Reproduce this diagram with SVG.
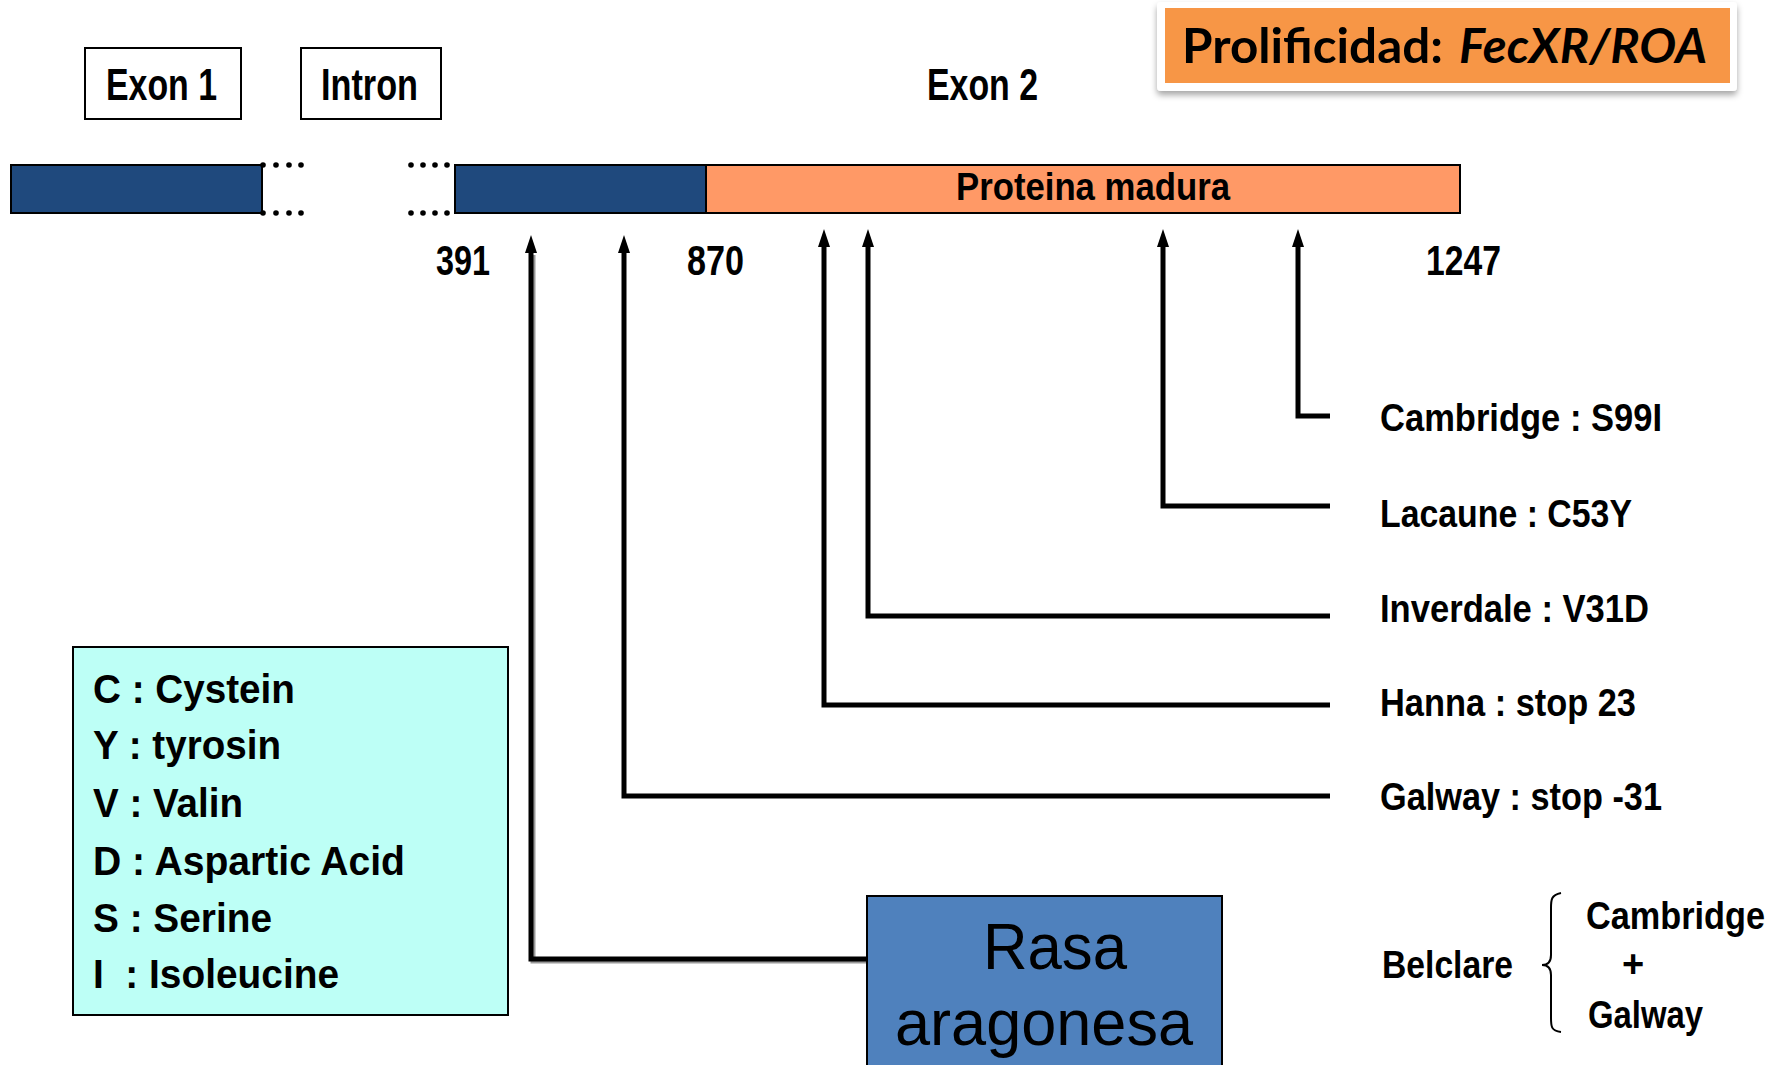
<svg xmlns="http://www.w3.org/2000/svg" width="1783" height="1065" viewBox="0 0 1783 1065">
<style>
  .lbl { font-family: "Liberation Sans", Arial, sans-serif; font-weight: bold; fill: #000; }
  .box { fill: #fff; stroke: #000; stroke-width: 2; }
  .conn { fill: none; stroke: #000; stroke-width: 5; stroke-linejoin: miter; }
  .dot { fill: #000; }
  .title { font-family: Lato, "Open Sans", sans-serif; font-weight: bold; font-size: 47px; fill: #000; }
</style>
<defs>
  <marker id="arrow" viewBox="0 0 18 12" refX="0" refY="6" markerWidth="18" markerHeight="12" markerUnits="userSpaceOnUse" orient="auto">
    <path d="M0,0 L18,6 L0,12 z" fill="#000"/>
  </marker>
  <filter id="shadow" x="-5%" y="-20%" width="110%" height="150%">
    <feDropShadow dx="0" dy="4" stdDeviation="3" flood-color="#000" flood-opacity="0.35"/>
  </filter>
</defs>
<rect width="1783" height="1065" fill="#fff"/>

<g id="title">
  <rect x="1157" y="2" width="580" height="89" rx="4" fill="#fff" filter="url(#shadow)"/>
  <rect x="1165" y="8" width="565" height="75" fill="#F79646"/>
  <text class="title" x="1182" y="63" textLength="261" lengthAdjust="spacingAndGlyphs">Prolificidad:</text>
  <text class="title" x="1459" y="63" font-style="italic" textLength="248" lengthAdjust="spacingAndGlyphs">FecXR/ROA</text>
</g>

<g id="exon1-label">
  <rect class="box" x="85" y="48" width="156" height="71"/>
  <text class="lbl" x="106" y="100" font-size="44" textLength="111" lengthAdjust="spacingAndGlyphs">Exon 1</text>
</g>
<g id="intron-label">
  <rect class="box" x="301" y="48" width="140" height="71"/>
  <text class="lbl" x="321" y="100" font-size="44" textLength="97" lengthAdjust="spacingAndGlyphs">Intron</text>
</g>
<g id="exon2-label">
  <text class="lbl" x="927" y="100" font-size="44" textLength="111" lengthAdjust="spacingAndGlyphs">Exon 2</text>
</g>

<g id="exon1-bar">
  <rect x="11" y="165" width="251" height="48" fill="#1F497D" stroke="#000" stroke-width="2"/>
  <circle class="dot" cx="263" cy="165" r="2.8"/><circle class="dot" cx="276" cy="165" r="2.8"/><circle class="dot" cx="289" cy="165" r="2.8"/><circle class="dot" cx="301" cy="165" r="2.8"/>
  <circle class="dot" cx="263" cy="213" r="2.8"/><circle class="dot" cx="276" cy="213" r="2.8"/><circle class="dot" cx="289" cy="213" r="2.8"/><circle class="dot" cx="301" cy="213" r="2.8"/>
</g>

<g id="exon2-bar">
  <circle class="dot" cx="411" cy="165" r="2.8"/><circle class="dot" cx="423" cy="165" r="2.8"/><circle class="dot" cx="435" cy="165" r="2.8"/><circle class="dot" cx="447" cy="165" r="2.8"/>
  <circle class="dot" cx="411" cy="213" r="2.8"/><circle class="dot" cx="423" cy="213" r="2.8"/><circle class="dot" cx="435" cy="213" r="2.8"/><circle class="dot" cx="447" cy="213" r="2.8"/>
  <rect x="455" y="165" width="251" height="48" fill="#1F497D" stroke="#000" stroke-width="2"/>
</g>

<g id="proteina-madura">
  <rect x="706" y="165" width="754" height="48" fill="#FF9966" stroke="#000" stroke-width="2"/>
  <text class="lbl" x="956" y="200" font-size="38" textLength="274" lengthAdjust="spacingAndGlyphs">Proteina madura</text>
</g>

<g id="positions">
  <text class="lbl" x="436" y="275" font-size="42" textLength="54" lengthAdjust="spacingAndGlyphs">391</text>
  <text class="lbl" x="687" y="275" font-size="42" textLength="57" lengthAdjust="spacingAndGlyphs">870</text>
  <text class="lbl" x="1426" y="275" font-size="42" textLength="75" lengthAdjust="spacingAndGlyphs">1247</text>
</g>

<g id="connectors">
  <path class="conn" d="M1330,416 H1298 V247" marker-end="url(#arrow)"/>
  <path class="conn" d="M1330,506 H1163 V247" marker-end="url(#arrow)"/>
  <path class="conn" d="M1330,616 H868 V247" marker-end="url(#arrow)"/>
  <path class="conn" d="M1330,705 H824 V247" marker-end="url(#arrow)"/>
  <path class="conn" d="M1330,796 H624 V253" marker-end="url(#arrow)"/>
  <path d="M867,961 H533 V255" fill="none" stroke="#999" stroke-width="5"/>
  <path class="conn" d="M867,959 H531 V253" marker-end="url(#arrow)"/>
</g>

<g id="cambridge">
  <text class="lbl" x="1380" y="431" font-size="39" textLength="282" lengthAdjust="spacingAndGlyphs">Cambridge : S99I</text>
</g>
<g id="lacaune">
  <text class="lbl" x="1380" y="527" font-size="39" textLength="252" lengthAdjust="spacingAndGlyphs">Lacaune : C53Y</text>
</g>
<g id="inverdale">
  <text class="lbl" x="1380" y="622" font-size="39" textLength="269" lengthAdjust="spacingAndGlyphs">Inverdale : V31D</text>
</g>
<g id="hanna">
  <text class="lbl" x="1380" y="716" font-size="39" textLength="256" lengthAdjust="spacingAndGlyphs">Hanna : stop 23</text>
</g>
<g id="galway">
  <text class="lbl" x="1380" y="810" font-size="39" textLength="282" lengthAdjust="spacingAndGlyphs">Galway : stop -31</text>
</g>

<g id="legend">
  <rect x="73" y="647" width="435" height="368" fill="#BDFFF6" stroke="#000" stroke-width="2"/>
  <text class="lbl" x="93" y="703" font-size="40" textLength="202" lengthAdjust="spacingAndGlyphs">C : Cystein</text>
  <text class="lbl" x="93" y="759" font-size="40" textLength="188" lengthAdjust="spacingAndGlyphs">Y : tyrosin</text>
  <text class="lbl" x="93" y="817" font-size="40" textLength="150" lengthAdjust="spacingAndGlyphs">V : Valin</text>
  <text class="lbl" x="93" y="875" font-size="40" textLength="312" lengthAdjust="spacingAndGlyphs">D : Aspartic Acid</text>
  <text class="lbl" x="93" y="932" font-size="40" textLength="179" lengthAdjust="spacingAndGlyphs">S : Serine</text>
  <text class="lbl" x="93" y="988" font-size="40" textLength="246" lengthAdjust="spacingAndGlyphs" style="white-space:pre">I  : Isoleucine</text>
</g>

<g id="rasa-aragonesa">
  <rect x="867" y="896" width="355" height="180" fill="#4F81BD" stroke="#000" stroke-width="2"/>
  <text x="1055" y="969" font-family="Liberation Sans, Arial, sans-serif" font-size="64" text-anchor="middle" textLength="144" lengthAdjust="spacingAndGlyphs">Rasa</text>
  <text x="1044" y="1045" font-family="Liberation Sans, Arial, sans-serif" font-size="64" text-anchor="middle" textLength="298" lengthAdjust="spacingAndGlyphs">aragonesa</text>
</g>

<g id="belclare">
  <text class="lbl" x="1382" y="978" font-size="38" textLength="131" lengthAdjust="spacingAndGlyphs">Belclare</text>
  <path d="M1561,893 C1551,895 1551,900 1551,908 V955 C1551,962 1548,965 1542,965 C1548,965 1551,968 1551,975 V1018 C1551,1026 1551,1031 1561,1032" fill="none" stroke="#000" stroke-width="2"/>
  <text class="lbl" x="1586" y="929" font-size="38" textLength="179" lengthAdjust="spacingAndGlyphs">Cambridge</text>
  <text class="lbl" x="1633" y="977" font-size="38" text-anchor="middle">+</text>
  <text class="lbl" x="1588" y="1028" font-size="38" textLength="115" lengthAdjust="spacingAndGlyphs">Galway</text>
</g>
</svg>
